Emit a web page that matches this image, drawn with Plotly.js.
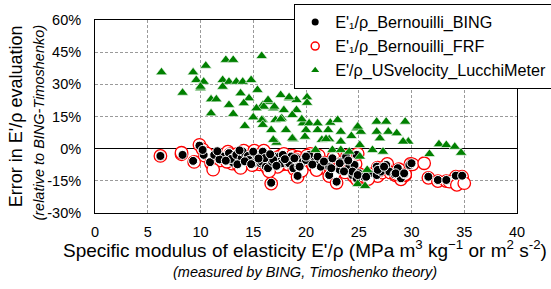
<!DOCTYPE html>
<html>
<head>
<meta charset="utf-8">
<script src="https://cdn.plot.ly/plotly-3.0.1.min.js"></script>
<style>html,body{margin:0;padding:0;background:#fff;}#chart{width:551px;height:289px;}</style>
</head>
<body>
<div id="chart"></div>
<script>
// Series: E'1/rho Bernouilli BING (x = E'/rho BING-Timoshenko, y = error %)
const bingX = [6.2, 8.3, 9.9, 9.3, 10.3, 10.2, 10.9, 11.3, 12.0, 12.1, 12.7, 12.7, 13.2, 13.1, 12.9, 13.4, 13.9, 14.0, 13.5, 14.5,
  14.6, 15.3, 15.0, 15.0, 15.8, 15.9, 15.7, 15.8, 16.2, 16.4, 16.8, 16.7, 17.0, 17.5, 17.5, 17.7, 17.8, 18.3, 18.4, 18.6,
  18.8, 19.1, 19.3, 19.2, 19.7, 20.0, 20.3, 20.8, 21.1, 21.4, 22.2, 22.5, 22.2, 22.9, 23.3, 23.2, 23.8, 24.1, 24.4, 24.6,
  24.4, 25.0, 24.8, 25.5, 26.0, 26.7, 26.7, 27.3, 27.1, 27.6, 27.9, 28.4, 28.7, 29.0, 29.3, 29.8, 31.6, 32.5, 33.3, 34.2,
  34.8, 18.9, 19.4, 20.0, 22.4, 23.2, 24.8, 24.9, 25.7, 26.8, 27.4, 28.5, 29.3, 30.0, 11.8, 12.4, 14.2, 14.8, 16.1, 16.9,
  17.2, 18.0, 20.6, 21.7, 23.6, 24.0, 11.6, 13.7, 15.5, 16.6];
const bingY = [-3.4, -2.9, 1.4, -5.7, -2.9, -0.6, -6.3, -2.9, -4.2, -3.7, -1.9, -2.1, -3.7, -6.5, -4.8, -2.9, -4.5, -1.4, -7.3, -3.4,
  -5.3, -2.9, -1.4, -6.8, -2.5, -1.4, -6.8, -6.1, -8.4, -9.1, -6.1, -15.9, -3.7, -3.7, -6.1, -6.8, -2.9, -6.8, -6.8, -3.7,
  -9.1, -4.5, -8.4, -12.7, -6.1, -5.3, -2.9, -6.1, -3.7, -8.4, -8.4, -4.5, -12.3, -15.4, -6.1, -9.9, -3.7, -8.4, -12.3, -7.6,
  -10.7, -11.5, -13.8, -13.1, -11.5, -12.3, -8.4, -8.4, -10.7, -7.6, -10.7, -11.9, -9.1, -13.8, -11.9, -7.6, -13.1, -14.6, -14.6, -12.6,
  -12.6, -4.5, -8.4, -3.7, -9.1, -6.8, -2.9, -12.3, -13.1, -9.9, -8.4, -11.5, -11.5, -6.8, -5.0, -5.6, -5.9, -7.2, -4.4, -5.2,
  -8.0, -4.9, -7.4, -6.0, -10.6, -5.5, -1.2, -0.8, -4.6, -2.6];

// Series: E'1/rho Bernouilli FRF
const frfX = [6.2, 8.2, 9.9, 9.4, 10.4, 10.2, 11.0, 11.4, 12.1, 12.2, 12.6, 12.8, 13.3, 13.0, 12.9, 13.5, 14.0, 14.1, 13.6, 14.4,
  14.7, 15.2, 15.1, 15.0, 15.9, 16.0, 15.6, 15.9, 16.3, 16.5, 16.9, 16.7, 17.1, 17.6, 17.4, 17.8, 17.9, 18.4, 18.3, 18.7,
  18.9, 19.2, 19.4, 19.2, 19.8, 20.1, 20.4, 20.9, 21.2, 21.5, 22.3, 22.6, 22.2, 22.9, 23.4, 23.3, 23.9, 24.2, 24.5, 24.7,
  24.4, 25.1, 24.8, 25.6, 26.1, 26.8, 26.8, 27.4, 27.2, 27.7, 28.0, 28.5, 28.8, 29.0, 29.4, 29.9, 31.6, 32.5, 33.3, 34.2,
  34.8, 19.0, 19.5, 20.1, 22.5, 23.3, 24.9, 24.9, 25.8, 26.9, 27.5, 28.6, 29.4, 30.1, 11.9, 12.5, 14.3, 14.9, 16.2, 17.0,
  17.3, 18.1, 20.7, 21.8, 23.7, 24.1, 31.2, 33.6, 34.3, 35.0, 8.2, 10.6, 11.2, 13.8, 16.5, 19.6, 21.0, 22.7, 25.9];
const frfY = [-3.4, -2.6, 1.8, -6.2, -3.3, -0.3, -6.8, -3.4, -4.6, -4.1, -1.4, -2.5, -4.2, -7.0, -5.3, -2.4, -5.0, -0.9, -7.8, -3.8,
  -5.8, -2.4, -0.9, -7.3, -2.0, -0.9, -7.3, -6.6, -8.9, -9.6, -6.6, -16.3, -4.2, -3.2, -6.6, -7.3, -2.4, -7.3, -7.3, -3.2,
  -9.6, -4.0, -8.9, -13.2, -6.6, -5.8, -2.4, -6.6, -3.2, -8.9, -8.9, -4.0, -12.8, -15.9, -6.6, -10.4, -3.2, -8.9, -12.8, -7.1,
  -11.2, -12.0, -14.3, -13.6, -12.0, -12.8, -8.9, -8.9, -11.2, -7.1, -11.2, -12.4, -9.6, -14.3, -12.4, -7.1, -13.6, -15.1, -15.1, -13.1,
  -13.1, -5.0, -8.9, -3.2, -9.6, -7.3, -2.4, -12.8, -13.6, -10.4, -8.9, -12.0, -12.0, -7.3, -5.5, -6.1, -6.4, -7.7, -4.9, -5.7,
  -8.5, -5.4, -7.9, -6.5, -11.1, -6.0, -6.8, -15.4, -16.9, -16.1, -1.9, -2.2, -9.8, -9.0, -10.6, -10.3, -10.0, -11.5, -14.2];

// Series: E'/rho US velocity LucchiMeter
const usX = [6.3, 8.3, 9.3, 10.5, 10.0, 9.6, 10.3, 12.4, 13.1, 15.8, 12.1, 12.7, 13.4, 14.0, 12.1, 14.8, 15.4, 13.8, 14.6, 11.0,
  11.5, 12.7, 14.1, 11.0, 13.1, 14.2, 15.9, 16.9, 17.6, 18.4, 19.1, 17.1, 15.9, 16.7, 17.2, 18.1, 18.8, 17.7, 19.7, 18.4,
  20.1, 20.1, 16.5, 17.0, 17.9, 19.1, 18.7, 17.6, 19.6, 20.3, 21.1, 22.3, 23.0, 22.1, 21.1, 20.0, 18.7, 21.5, 22.2, 23.3,
  24.8, 25.2, 24.3, 25.1, 26.7, 16.9, 26.7, 27.6, 29.4, 27.8, 28.6, 29.7, 31.7, 32.6, 33.3, 34.1, 34.7, 24.9, 23.3, 22.5,
  26.3, 27.3, 25.1, 24.9, 25.6, 25.8, 27.0, 29.2, 10.0, 16.0, 16.4, 15.8, 15.9, 15.0, 15.3, 20.9, 23.3, 24.1, 19.9, 21.9];
const usY = [35.6, 26.1, 35.6, 38.7, 28.2, 32.0, 31.2, 41.4, 41.4, 43.2, 32.0, 31.2, 31.2, 31.2, 28.9, 32.0, 27.4, 25.8, 23.5, 23.0,
  23.0, 20.4, 21.2, 16.5, 16.2, 10.6, 20.4, 18.8, 25.0, 23.5, 22.7, 13.4, 13.4, 8.7, 2.8, 8.7, 4.4, 14.2, 11.8, 24.0,
  24.0, 21.4, 21.9, 19.6, 18.0, 18.0, 15.7, 13.7, 13.7, 11.8, 11.8, 12.1, 13.4, 8.7, 8.7, 8.7, 4.8, 4.1, 4.4, 3.3,
  9.5, 7.9, 5.9, 1.7, 7.9, 4.1, 12.6, 12.6, 12.6, 7.9, 7.2, 3.3, -2.5, 2.1, 1.7, 0.9, -1.9, 10.3, 7.9, -0.6,
  -0.6, -1.4, -3.7, -16.5, -17.4, -9.9, 4.8, 3.3, 28.9, 19.6, 22.7, 13.4, 11.1, 14.6, 18.8, -0.6, -0.6, -1.4, 5.6, 4.5];

// Legend labels
const labels = ["E'₁/ρ_Bernouilli_BING", "E'₁/ρ_Bernouilli_FRF", "E'/ρ_USvelocity_LucchiMeter"];
const yTicks = [-30, -15, 0, 15, 30, 45, 60];
const yTickText = ["-30%", "-15%", "0%", "15%", "30%", "45%", "60%"];
const xTicks = [0, 5, 10, 15, 20, 25, 30, 35, 40];

const FONT = 'Liberation Sans, Arial, sans-serif';

const traces = [
  // legend-only entries (small markers as in the reference legend)
  {x: [null], y: [null], type: 'scatter', mode: 'markers', name: labels[0],
   marker: {symbol: 'circle', size: 7, color: '#000'}},
  {x: [null], y: [null], type: 'scatter', mode: 'markers', name: labels[1],
   marker: {symbol: 'circle-open', size: 8, color: '#ff0000', line: {width: 1.5}}},
  {x: [null], y: [null], type: 'scatter', mode: 'markers', name: labels[2],
   marker: {symbol: 'triangle-up', size: 7, color: '#008000'}},
  // data
  {x: frfX, y: frfY, type: 'scatter', mode: 'markers', showlegend: false,
   marker: {symbol: 'circle', size: 12.5, color: '#ffffff', line: {color: '#ff0000', width: 1.3}}},
  {x: bingX, y: bingY, type: 'scatter', mode: 'markers', showlegend: false,
   marker: {symbol: 'circle', size: 9, color: '#000000', line: {color: '#ffffff', width: 1}}},
  {x: usX, y: usY, type: 'scatter', mode: 'markers', showlegend: false,
   marker: {symbol: 'triangle-up', size: 10, color: '#008000', line: {color: '#ffffff', width: 0.6}}}
];

const layout = {
  width: 551, height: 289,
  margin: {l: 95, r: 34, t: 20, b: 76, autoexpand: false},
  paper_bgcolor: '#fff', plot_bgcolor: '#fff',
  font: {family: FONT, color: '#000', size: 14},
  showlegend: true,
  legend: {
    x: 0.472, y: 1.083, xanchor: 'left', yanchor: 'top',
    bgcolor: '#fff', bordercolor: '#000', borderwidth: 1,
    font: {family: FONT, size: 16.2, color: '#000'},
    tracegroupgap: 0
  },
  xaxis: {
    range: [0, 40], tickvals: xTicks, ticktext: xTicks.map(String),
    showgrid: true, gridcolor: '#9a9a9a', griddash: '3px,2px', gridwidth: 1,
    zeroline: false, showline: true, mirror: true, linecolor: '#000', linewidth: 1,
    ticks: '', ticklabelstandoff: 6,
    tickfont: {family: FONT, size: 14.5, color: '#000'}
  },
  yaxis: {
    range: [-30, 60], tickvals: yTicks, ticktext: yTickText,
    showgrid: true, gridcolor: '#9a9a9a', griddash: '3px,2px', gridwidth: 1,
    zeroline: true, zerolinecolor: '#000', zerolinewidth: 1.5,
    showline: true, mirror: true, linecolor: '#000', linewidth: 1,
    ticks: '', ticklabelstandoff: 10,
    tickfont: {family: FONT, size: 14.5, color: '#000'}
  },
  annotations: [
    {xref: 'paper', yref: 'paper', x: -0.188, y: 0.5, xanchor: 'center', yanchor: 'middle',
     textangle: -90, showarrow: false, text: "Error in E'/ρ evaluation",
     font: {family: FONT, size: 18, color: '#000'}},
    {xref: 'paper', yref: 'paper', x: -0.132, y: 0.47, xanchor: 'center', yanchor: 'middle',
     textangle: -90, showarrow: false, text: "<i>(relative to BING-Timoshenko)</i>",
     font: {family: FONT, size: 14.5, color: '#000'}},
    {xref: 'paper', yref: 'paper', x: 0.498, y: -0.186, xanchor: 'center', yanchor: 'middle',
     showarrow: false,
     text: "Specific modulus of elasticity E'/ρ (MPa m<sup>3</sup> kg<sup>−1</sup> or m<sup>2</sup> s<sup>-2</sup>)",
     font: {family: FONT, size: 19, color: '#000'}},
    {xref: 'paper', yref: 'paper', x: 0.498, y: -0.305, xanchor: 'center', yanchor: 'middle',
     showarrow: false, text: "<i>(measured by BING, Timoshenko theory)</i>",
     font: {family: FONT, size: 14.5, color: '#000'}}
  ]
};

Plotly.newPlot('chart', traces, layout, {displayModeBar: false, staticPlot: true});
</script>
</body>
</html>
